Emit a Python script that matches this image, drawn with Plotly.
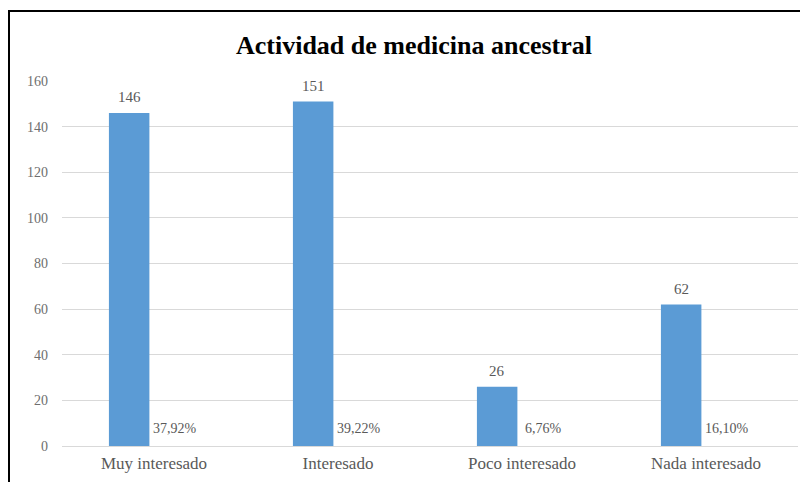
import plotly.graph_objects as go

categories = ["Muy interesado", "Interesado", "Poco interesado", "Nada interesado"]
counts = [146, 151, 26, 62]
fractions = [0.3792, 0.3922, 0.0676, 0.1610]
pct_labels = ["37,92%", "39,22%", "6,76%", "16,10%"]
y_ticks = [0, 20, 40, 60, 80, 100, 120, 140, 160]

SERIF = "Liberation Serif"
GRAY = "#595959"
TICKGRAY = "#6e6e6e"

fig = go.Figure()
fig.add_trace(go.Bar(
    x=categories, y=counts,
    marker=dict(color="#5b9bd5", line=dict(width=0)),
    width=0.22, offset=-0.245, showlegend=False,
))
fig.add_trace(go.Bar(
    x=categories, y=fractions,
    marker=dict(color="rgba(0,0,0,0)", line=dict(width=0)),
    width=0.22, offset=-0.012, showlegend=False,
))

annotations = [
    dict(x=c, y=v, xref="x", yref="y", text=str(v), showarrow=False,
         xshift=-25, yshift=16, yanchor="middle",
         font=dict(family=SERIF, size=15, color=GRAY))
    for c, v in zip(categories, counts)
] + [
    dict(x=c, y=f, xref="x", yref="y", text=t, showarrow=False,
         xshift=21, yshift=17, yanchor="middle",
         font=dict(family=SERIF, size=14, color=GRAY))
    for c, f, t in zip(categories, fractions, pct_labels)
]

fig.update_layout(
    template="none",
    width=808, height=482,
    margin=dict(l=54, r=18, t=73, b=44, autoexpand=False),
    paper_bgcolor="white", plot_bgcolor="white",
    font=dict(family=SERIF, size=14, color=GRAY),
    barmode="overlay",
    title=dict(text="<b>Actividad de medicina ancestral</b>",
               font=dict(family=SERIF, size=26, color="#000000"),
               x=406/808, xanchor="center", y=1-37/482, yanchor="middle"),
    annotations=annotations,
    shapes=[dict(type="rect", xref="paper", yref="paper",
                 x0=-53/736, x1=780/736, y0=-70/365, y1=1+70/365,
                 line=dict(color="black", width=2), fillcolor="rgba(0,0,0,0)",
                 layer="below")],
)
fig.update_xaxes(showgrid=False, showline=False, ticks="", automargin=False,
                 ticklabelstandoff=5,
                 tickfont=dict(family=SERIF, size=17, color=GRAY))
fig.update_yaxes(range=[0, 160], tickvals=y_ticks, showgrid=True,
                 gridcolor="#d9d9d9", gridwidth=1, zeroline=True,
                 zerolinecolor="#d9d9d9", zerolinewidth=1, showline=False,
                 ticks="", ticklabelstandoff=13, automargin=False,
                 tickfont=dict(family=SERIF, size=14, color=TICKGRAY))
fig.write_html("out.html")
